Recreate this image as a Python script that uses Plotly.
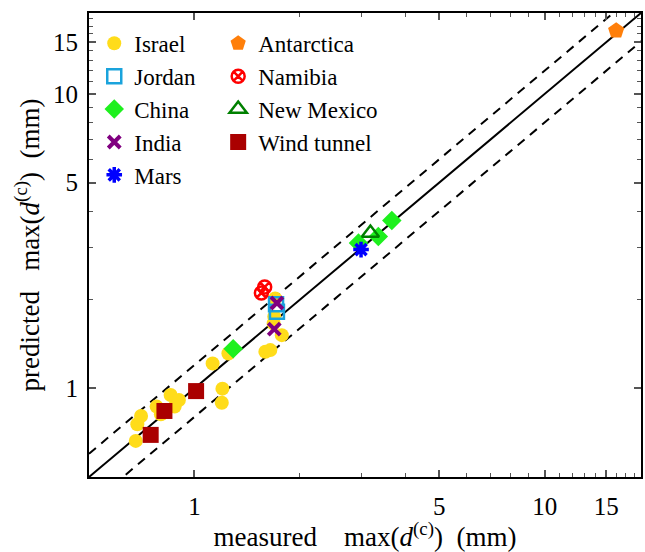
import plotly.graph_objects as go
import numpy as np

# ---------------- data ----------------
israel_x = [0.680, 0.687, 0.704, 0.780, 0.802, 0.855, 0.878, 0.903, 1.127, 1.202, 1.197,
            1.25, 1.594, 1.647, 1.776, 1.683, 1.70, 1.69]
israel_y = [0.663, 0.755, 0.806, 0.867, 0.816, 0.949, 0.867, 0.913, 1.215, 0.998, 0.894,
            1.314, 1.331, 1.349, 1.516, 1.661, 2.02, 1.75]
jordan_x = [1.71, 1.72]
jordan_y = [1.93, 1.82]
china_x = [1.29, 2.94, 3.35, 3.66]
china_y = [1.363, 3.12, 3.28, 3.72]
india_x = [1.72, 1.69]
india_y = [1.95, 1.59]
mars_x = [2.99]
mars_y = [2.96]
antarctica_x = [16.0]
antarctica_y = [16.4]
namibia_x = [1.587, 1.553]
namibia_y = [2.21, 2.11]
newmexico_x = [3.18]
newmexico_y = [3.37]
wind_x = [0.75, 0.821, 1.011]
wind_y = [0.695, 0.838, 0.979]

line_x = [0.5, 19.0]
upper_factor = 1.2
lower_factor = 0.8

major_ticks = [1, 5, 10, 15]
minor_ticks = [2, 3, 4, 6, 7, 8, 9, 11, 12, 13, 14, 16, 17, 18]

FONT = "Liberation Serif"
FS = 25
LFS = 23
TFS = 27

fig = go.Figure()

lx = np.array(line_x)
fig.add_trace(go.Scatter(x=lx, y=lx, mode="lines", line=dict(color="black", width=2),
                         showlegend=False, hoverinfo="skip"))
fig.add_trace(go.Scatter(x=lx, y=lx * upper_factor, mode="lines",
                         line=dict(color="black", width=2, dash="9px,7px"),
                         showlegend=False, hoverinfo="skip"))
fig.add_trace(go.Scatter(x=lx, y=lx * lower_factor, mode="lines",
                         line=dict(color="black", width=2, dash="9px,7px"),
                         showlegend=False, hoverinfo="skip"))

series = [
    ("Israel", israel_x, israel_y, dict(symbol="circle", size=14, color="#FFDC1A"), "legend"),
    ("Jordan", jordan_x, jordan_y, dict(symbol="square-open", size=14, color="#1AA3DC",
                                        line=dict(width=2.5, color="#1AA3DC")), "legend"),
    ("China", china_x, china_y, dict(symbol="diamond", size=15, color="#1EF01E"), "legend"),
    ("India", india_x, india_y, dict(symbol="x-thin-open", size=12, color="#800080",
                                     line=dict(width=4, color="#800080")), "legend"),
    ("Mars", mars_x, mars_y, dict(symbol="asterisk-open", size=13, color="#0000FF",
                                  line=dict(width=3.5, color="#0000FF")), "legend"),
    ("Antarctica", antarctica_x, antarctica_y, dict(symbol="pentagon", size=17, color="#FF7F0A"), "legend2"),
    ("Namibia", namibia_x, namibia_y, dict(symbol="circle-x-open", size=13, color="#FF0000",
                                           line=dict(width=2.5, color="#FF0000")), "legend2"),
    ("New Mexico", newmexico_x, newmexico_y, dict(symbol="triangle-up-open", size=15, color="#008000",
                                                  line=dict(width=2.5, color="#008000")), "legend2"),
    ("Wind tunnel", wind_x, wind_y, dict(symbol="square", size=16, color="#AA0000"), "legend2"),
]
for name, xs, ys, mk, lg in series:
    fig.add_trace(go.Scatter(x=xs, y=ys, mode="markers", name=name, marker=mk, legend=lg))

axis_common = dict(
    type="log",
    showline=True, linecolor="black", linewidth=2, mirror="allticks",
    ticks="inside", ticklen=7, tickwidth=1.5, tickcolor="#555",
    tickmode="array", tickvals=major_ticks, ticktext=[str(v) for v in major_ticks],
    minor=dict(tickmode="array", tickvals=minor_ticks, ticks="inside", ticklen=4,
               tickwidth=1, tickcolor="#555", showgrid=False),
    showgrid=False, zeroline=False,
    tickfont=dict(family=FONT, size=FS, color="black"),
)

fig.update_xaxes(**axis_common, range=[np.log10(0.5), 1.275], ticklabelstandoff=6,
                 title=dict(text="measured &nbsp;&nbsp; max(<i>d</i><sup>(c)</sup>) &nbsp;(mm)",
                            font=dict(family=FONT, size=TFS, color="black"), standoff=4))
fig.update_yaxes(**axis_common, range=[np.log10(0.5), 1.275], ticklabelstandoff=4,
                 title=dict(text="predicted &nbsp; max(<i>d</i><sup>(c)</sup>) &nbsp;(mm)",
                            font=dict(family=FONT, size=TFS, color="black"), standoff=6))

leg_common = dict(orientation="v", yanchor="top", xanchor="left",
                  bgcolor="rgba(0,0,0,0)", font=dict(family=FONT, size=LFS, color="black"),
                  itemsizing="trace", tracegroupgap=0)
fig.update_layout(
    width=645, height=552,
    margin=dict(l=89, r=2, t=13, b=75),
    paper_bgcolor="white", plot_bgcolor="white",
    font=dict(family=FONT, color="black"),
    legend=dict(**leg_common, x=0.0095, y=0.981),
    legend2=dict(**leg_common, x=0.234, y=0.981),
)

fig.write_html("out.html")
